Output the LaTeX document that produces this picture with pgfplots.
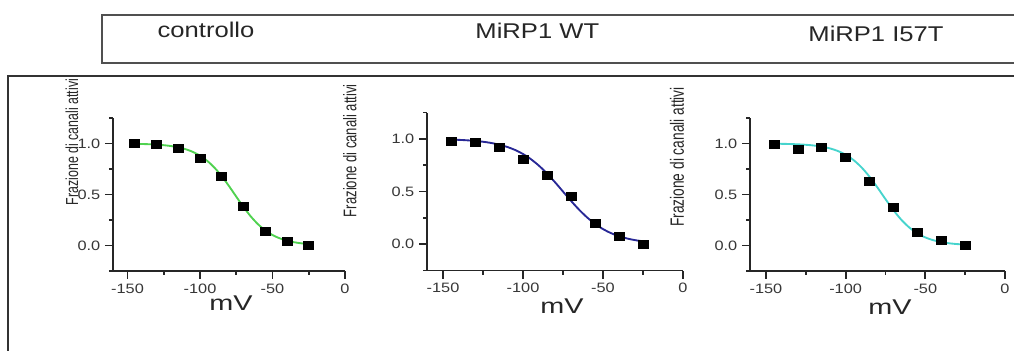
\documentclass[border=0pt]{standalone}
\usepackage{fontspec}
\setmainfont{Liberation Sans}
\usepackage{graphicx}
\usepackage{pgfplots}
\pgfplotsset{compat=1.18}
\definecolor{cgreen}{RGB}{80,210,80}
\definecolor{cblue}{RGB}{40,40,150}
\definecolor{ccyan}{RGB}{70,212,205}
\definecolor{tickgray}{RGB}{55,55,55}
\definecolor{framegray}{RGB}{80,80,80}
\pgfplotsset{
  panel/.style={
    scale only axis,
    axis lines=left,
    axis line style={-, line width=1.3pt, color=black!85},
    xmin=-160, xmax=0, ymin=-0.25, ymax=1.25,
    xtick={-150,-100,-50,0},
    xticklabels={\scalebox{1.2}[1]{-150},\scalebox{1.2}[1]{-100},\scalebox{1.2}[1]{-50},\scalebox{1.2}[1]{0}},
    ytick={0,0.5,1},
    yticklabels={\scalebox{1.2}[1]{0.0},\scalebox{1.2}[1]{0.5},\scalebox{1.2}[1]{1.0}},
    minor xtick={-125,-75,-25},
    minor ytick={-0.25,0.25,0.75,1.25},
    tick align=outside,
    major tick length=6pt,
    minor tick length=3pt,
    every tick/.style={line width=1.3pt, color=black!85},
    tick label style={font=\fontsize{10.2}{11}\selectfont, color=tickgray},
    xlabel={\scalebox{1.35}[1]{mV}},
    xlabel style={font=\fontsize{16}{17}\selectfont, color=black!85, anchor=center},
    ylabel style={color=black!85, anchor=center},
    clip=false,
  },
  fitline/.style={smooth, line width=1.4pt, no marks},
  pts/.style={only marks, mark=square*, mark size=3pt, mark options={xscale=1.25, fill=black, draw=black}},
}
\begin{document}
\begin{tikzpicture}
\path[use as bounding box] (0,0) rectangle (760.5pt,262.5pt);
% title box
\draw[framegray, line width=1.1pt] (770pt,251.25pt) -- (76.5pt,251.25pt) -- (76.5pt,215.25pt) -- (770pt,215.25pt);
% outer frame
\draw[black!80, line width=1.1pt] (6pt,-5pt) -- (6pt,205.5pt) -- (770pt,205.5pt);
\node[anchor=base, font=\fontsize{16}{17}\selectfont, color=black!85] at (154.5pt,234pt) {\scalebox{1.2}[1]{controllo}};
\node[anchor=base, font=\fontsize{16}{17}\selectfont, color=black!85] at (403pt,233.25pt) {\scalebox{1.2}[1]{MiRP1 WT}};
\node[anchor=base, font=\fontsize{16}{17}\selectfont, color=black!85] at (657pt,231pt) {\scalebox{1.2}[1]{MiRP1 I57T}};

% panel 1: controllo
\begin{axis}[panel, at={(84.75pt,59.25pt)}, anchor=south west,
  width=174pt, height=114.75pt,
  ylabel={\scalebox{1}[1.4]{Frazione di canali attivi}},
  ylabel style={font=\fontsize{9.3}{10}\selectfont, at={(axis description cs:-0.177,0.843)}},
  xlabel style={at={(axis description cs:0.509,-0.209)}},
]
\addplot[fitline, cgreen] coordinates {
(-145,0.9968) (-140,0.9952) (-135,0.9927) (-130,0.9890) (-125,0.9834)
(-120,0.9751) (-115,0.9627) (-110,0.9445) (-105,0.9181) (-100,0.8808)
(-95,0.8297) (-90,0.7625) (-85,0.6792) (-80,0.5826) (-75,0.4792)
(-70,0.3775) (-65,0.2856) (-60,0.2086) (-55,0.1480) (-50,0.1028)
(-45,0.0702) (-40,0.0474) (-35,0.0318) (-30,0.0212) (-25,0.0141)};
\addplot[pts] coordinates {
(-145,1.000) (-130,0.995) (-115,0.955) (-100,0.856) (-85,0.680)
(-70,0.385) (-55,0.142) (-40,0.042) (-25,0.004)};
\end{axis}

% panel 2: MiRP1 WT
\begin{axis}[panel, at={(320.25pt,59.6pt)}, anchor=south west,
  width=192pt, height=118.5pt,
  ylabel={\scalebox{1}[1.4]{Frazione di canali attivi}},
  ylabel style={font=\fontsize{9.8}{10}\selectfont, at={(axis description cs:-0.301,0.759)}},
  xlabel style={at={(axis description cs:0.527,-0.228)}},
]
\addplot[fitline, cblue] coordinates {
(-145,0.9933) (-140,0.9905) (-135,0.9864) (-130,0.9807) (-125,0.9727)
(-120,0.9614) (-115,0.9457) (-110,0.9241) (-105,0.8950) (-100,0.8564)
(-95,0.8066) (-90,0.7449) (-85,0.6714) (-80,0.5884) (-75,0.5000)
(-70,0.4116) (-65,0.3286) (-60,0.2551) (-55,0.1934) (-50,0.1436)
(-45,0.1050) (-40,0.0759) (-35,0.0543) (-30,0.0386) (-25,0.0273)};
\addplot[pts] coordinates {
(-145,0.980) (-130,0.964) (-115,0.916) (-100,0.810) (-85,0.657)
(-70,0.455) (-55,0.202) (-40,0.073) (-25,0.003)};
\end{axis}

% panel 3: MiRP1 I57T
\begin{axis}[panel, at={(562.5pt,59.25pt)}, anchor=south west,
  width=191.25pt, height=114.75pt,
  ylabel={\scalebox{1}[1.4]{Frazione di canali attivi}},
  ylabel style={font=\fontsize{10.3}{11}\selectfont, at={(axis description cs:-0.286,0.745)}},
  xlabel style={at={(axis description cs:0.549,-0.235)}},
]
\addplot[fitline, ccyan] coordinates {
(-145,0.9979) (-140,0.9968) (-135,0.9949) (-130,0.9920) (-125,0.9874)
(-120,0.9803) (-115,0.9694) (-110,0.9526) (-105,0.9273) (-100,0.8900)
(-95,0.8370) (-90,0.7653) (-85,0.6742) (-80,0.5678) (-75,0.4547)
(-70,0.3461) (-65,0.2514) (-60,0.1757) (-55,0.1192) (-50,0.0791)
(-45,0.0517) (-40,0.0335) (-35,0.0215) (-30,0.0138) (-25,0.0088)};
\addplot[pts] coordinates {
(-145,0.994) (-130,0.946) (-115,0.961) (-100,0.864) (-85,0.631)
(-70,0.379) (-55,0.126) (-40,0.055) (-25,0.007)};
\end{axis}
\end{tikzpicture}
\end{document}
